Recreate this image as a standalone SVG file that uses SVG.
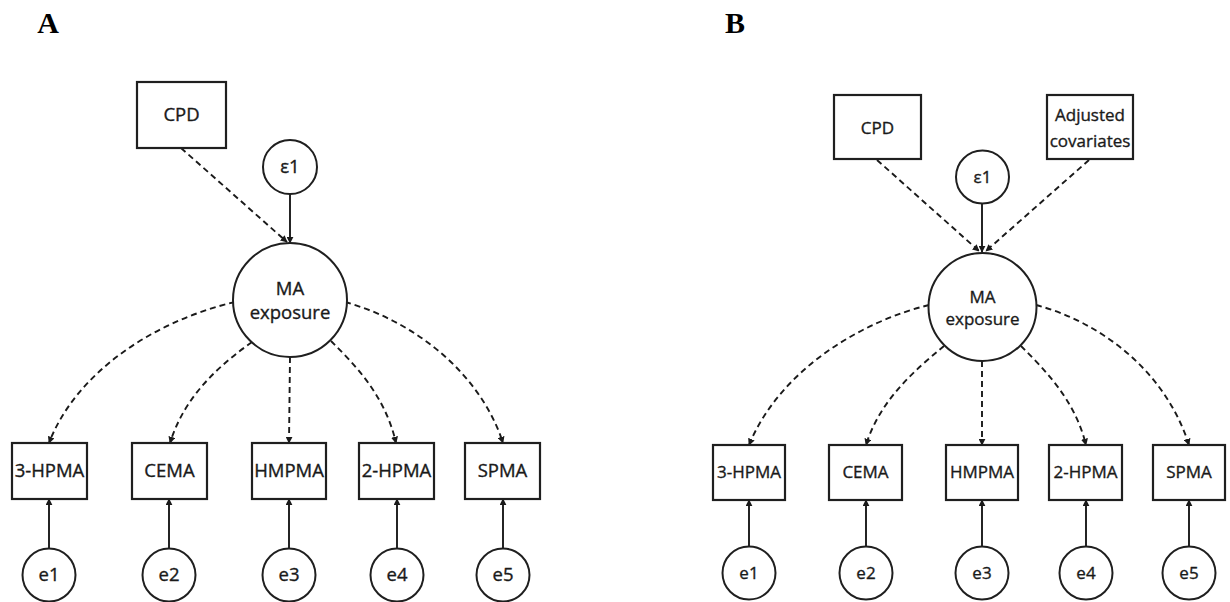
<svg xmlns="http://www.w3.org/2000/svg" width="1230" height="602" viewBox="0 0 1230 602">
<defs>
<marker id="ah" viewBox="0 0 10 10" refX="9" refY="5" markerWidth="7" markerHeight="7" markerUnits="userSpaceOnUse" orient="auto">
<path d="M0,0 L10,5 L0,10 Z" fill="#1a1a1a"/>
</marker>
<style>
.box{fill:#fff;stroke:#1f1f1f;stroke-width:2.2}
.circ{fill:#fff;stroke:#1f1f1f;stroke-width:2}
.t{font-family:"Open Sans","Liberation Sans",sans-serif;fill:#1a1a1a;stroke:#1a1a1a;stroke-width:0.35;text-anchor:middle}
.ta{font-size:18.5px}
.tb{font-size:17px}
.lab{font-family:"Liberation Serif",serif;font-weight:bold;font-size:30px;fill:#000;text-anchor:middle}
.dash{fill:none;stroke:#1a1a1a;stroke-width:1.9;stroke-dasharray:6 4;marker-end:url(#ah)}
.solid{fill:none;stroke:#1a1a1a;stroke-width:1.9;marker-end:url(#ah)}
</style>
</defs>
<rect width="1230" height="602" fill="#fff"/>
<text class="lab" x="48" y="33">A</text>
<text class="lab" x="735" y="33">B</text>

<g id="connectors">
<!-- Panel A -->
<path class="dash" d="M181,148 L287,242"/>
<path class="solid" d="M290,194 L290,243"/>
<path class="dash" d="M235,302 C150,322 75,375 49,443"/>
<path class="dash" d="M252,342 C220,365 185,395 170,443"/>
<path class="dash" d="M290,357 L289,443"/>
<path class="dash" d="M331,341 C355,365 385,395 396,443"/>
<path class="dash" d="M345,302 C417,322 481,375 503,443"/>
<path class="solid" d="M49,549 L49,499"/>
<path class="solid" d="M169,549 L169,499"/>
<path class="solid" d="M289,549 L289,499"/>
<path class="solid" d="M397,549 L397,499"/>
<path class="solid" d="M503,549 L503,499"/>
<!-- Panel B -->
<path class="dash" d="M877,160 L979,251"/>
<path class="dash" d="M1089,160 L986,251"/>
<path class="solid" d="M982,204 L982,252"/>
<path class="dash" d="M929,305 C860,322 780,370 749,445"/>
<path class="dash" d="M944,346 C915,370 880,400 866,445"/>
<path class="dash" d="M982,361 L982,445"/>
<path class="dash" d="M1021,346 C1045,370 1075,400 1086,445"/>
<path class="dash" d="M1036,305 C1100,322 1165,370 1189,445"/>
<path class="solid" d="M749,546 L749,500"/>
<path class="solid" d="M866,546 L866,500"/>
<path class="solid" d="M982,546 L982,500"/>
<path class="solid" d="M1086,546 L1086,500"/>
<path class="solid" d="M1189,546 L1189,500"/>
</g>

<!-- Panel A nodes -->
<g id="A_CPD"><rect class="box" x="137" y="82" width="89" height="66"/><text class="t ta" x="181.5" y="121">CPD</text></g>
<g id="A_eps1"><circle class="circ" cx="290" cy="167" r="27"/><text class="t ta" x="290" y="173">ε1</text></g>
<g id="A_MA"><circle class="circ" cx="290" cy="300" r="57"/><text class="t ta" x="290" y="295">MA</text><text class="t ta" x="290" y="319">exposure</text></g>
<g id="A_3HPMA"><rect class="box" x="12" y="443" width="75" height="56"/><text class="t ta" x="49.5" y="477">3-HPMA</text></g>
<g id="A_CEMA"><rect class="box" x="132" y="443" width="75" height="56"/><text class="t ta" x="169.5" y="477">CEMA</text></g>
<g id="A_HMPMA"><rect class="box" x="252" y="443" width="74" height="56"/><text class="t ta" x="289" y="477">HMPMA</text></g>
<g id="A_2HPMA"><rect class="box" x="359" y="443" width="75" height="56"/><text class="t ta" x="396.5" y="477">2-HPMA</text></g>
<g id="A_SPMA"><rect class="box" x="465" y="443" width="75" height="56"/><text class="t ta" x="502.5" y="477">SPMA</text></g>
<g id="A_e1"><circle class="circ" cx="49" cy="575" r="26.5"/><text class="t ta" x="49" y="581">e1</text></g>
<g id="A_e2"><circle class="circ" cx="169" cy="575" r="26.5"/><text class="t ta" x="169" y="581">e2</text></g>
<g id="A_e3"><circle class="circ" cx="289" cy="575" r="26.5"/><text class="t ta" x="289" y="581">e3</text></g>
<g id="A_e4"><circle class="circ" cx="397" cy="575" r="26.5"/><text class="t ta" x="397" y="581">e4</text></g>
<g id="A_e5"><circle class="circ" cx="503" cy="575" r="26.5"/><text class="t ta" x="503" y="581">e5</text></g>

<!-- Panel B nodes -->
<g id="B_CPD"><rect class="box" x="834" y="95" width="87" height="64"/><text class="t tb" x="877.5" y="134">CPD</text></g>
<g id="B_Adj"><rect class="box" x="1047" y="95" width="86" height="64"/><text class="t tb" x="1090" y="121">Adjusted</text><text class="t tb" x="1090" y="147">covariates</text></g>
<g id="B_eps1"><circle class="circ" cx="982.5" cy="177" r="26.5"/><text class="t tb" x="982.5" y="183">ε1</text></g>
<g id="B_MA"><circle class="circ" cx="982.5" cy="307" r="54"/><text class="t tb" x="982.5" y="303">MA</text><text class="t tb" x="982.5" y="325">exposure</text></g>
<g id="B_3HPMA"><rect class="box" x="713" y="445" width="72" height="55"/><text class="t tb" x="749" y="478">3-HPMA</text></g>
<g id="B_CEMA"><rect class="box" x="829" y="445" width="73" height="55"/><text class="t tb" x="865.5" y="478">CEMA</text></g>
<g id="B_HMPMA"><rect class="box" x="946" y="445" width="72" height="55"/><text class="t tb" x="982" y="478">HMPMA</text></g>
<g id="B_2HPMA"><rect class="box" x="1049" y="445" width="73" height="55"/><text class="t tb" x="1085.5" y="478">2-HPMA</text></g>
<g id="B_SPMA"><rect class="box" x="1153" y="445" width="72" height="55"/><text class="t tb" x="1189" y="478">SPMA</text></g>
<g id="B_e1"><circle class="circ" cx="749" cy="573" r="26.5"/><text class="t tb" x="749" y="579">e1</text></g>
<g id="B_e2"><circle class="circ" cx="866" cy="573" r="26.5"/><text class="t tb" x="866" y="579">e2</text></g>
<g id="B_e3"><circle class="circ" cx="982" cy="573" r="26.5"/><text class="t tb" x="982" y="579">e3</text></g>
<g id="B_e4"><circle class="circ" cx="1086" cy="573" r="26.5"/><text class="t tb" x="1086" y="579">e4</text></g>
<g id="B_e5"><circle class="circ" cx="1189" cy="573" r="26.5"/><text class="t tb" x="1189" y="579">e5</text></g>
</svg>
